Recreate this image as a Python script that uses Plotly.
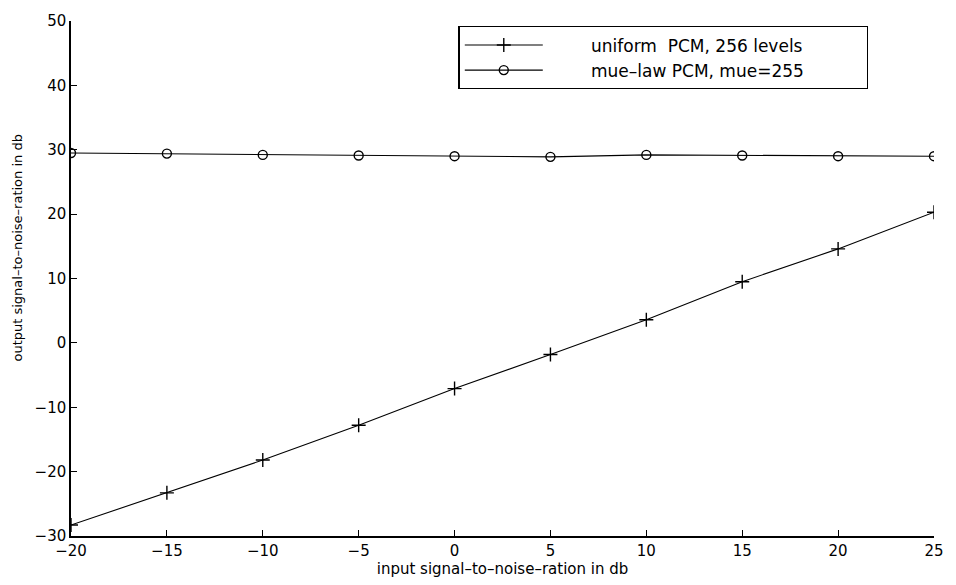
import plotly.graph_objects as go

x_db = [-20, -15, -10, -5, 0, 5, 10, 15, 20, 25]
uniform_pcm = [-28.3, -23.3, -18.2, -12.8, -7.1, -1.8, 3.6, 9.5, 14.6, 20.3]
mulaw_pcm = [29.5, 29.4, 29.2, 29.1, 29.0, 28.9, 29.2, 29.1, 29.0, 29.0]

x_ticks = [-20, -15, -10, -5, 0, 5, 10, 15, 20, 25]
y_ticks = [-30, -20, -10, 0, 10, 20, 30, 40, 50]

font_family = "DejaVu Sans, Verdana, sans-serif"
NB = "\u00a0"

fig = go.Figure()
fig.add_trace(go.Scatter(
    x=x_db, y=uniform_pcm, mode="lines+markers",
    name=NB * 8 + "uniform" + NB * 2 + "PCM, 256 levels" + NB * 11,
    line=dict(color="black", width=1.1),
    marker=dict(symbol="cross-thin", size=10, line=dict(color="black", width=1.4)),
))
fig.add_trace(go.Scatter(
    x=x_db, y=mulaw_pcm, mode="lines+markers",
    name=NB * 8 + "mue\u2013law PCM, mue=255",
    line=dict(color="black", width=1.1),
    marker=dict(symbol="circle-open", size=9, color="black", line=dict(color="black", width=1.4)),
))

fig.update_layout(
    width=956, height=585,
    margin=dict(l=71, r=14, t=15, b=48),
    paper_bgcolor="white", plot_bgcolor="white",
    font=dict(family=font_family, color="black", size=14),
    showlegend=True,
    legend=dict(
        x=0.449, y=0.99, xanchor="left", yanchor="top",
        bordercolor="black", borderwidth=1.3, bgcolor="white",
        font=dict(size=17, family=font_family),
        itemwidth=78, tracegroupgap=0,
    ),
    xaxis=dict(
        range=[-20, 25], tickvals=x_ticks,
        ticktext=[str(v).replace("-", "\u2212") for v in x_ticks],
        ticks="inside", ticklen=6, tickcolor="black", tickwidth=1.3,
        showline=True, linecolor="black", linewidth=1.5,
        showgrid=False, zeroline=False,
        tickfont=dict(size=15),
        title=dict(text="input signal\u2013to\u2013noise\u2013ration in db", font=dict(size=15), standoff=3),
    ),
    yaxis=dict(
        range=[-30, 50], tickvals=y_ticks,
        ticktext=[str(v).replace("-", "\u2212") for v in y_ticks],
        ticks="inside", ticklen=6, tickcolor="black", tickwidth=1.3,
        showline=True, linecolor="black", linewidth=1.5,
        showgrid=False, zeroline=False,
        tickfont=dict(size=15),
    ),
    annotations=[dict(
        text="output signal\u2013to\u2013noise\u2013ration in db",
        textangle=-90, xref="paper", yref="paper",
        x=-0.0615, y=0.56, xanchor="center", yanchor="middle",
        showarrow=False, font=dict(size=13, family=font_family),
    )],
)

fig.write_html("out.html")
